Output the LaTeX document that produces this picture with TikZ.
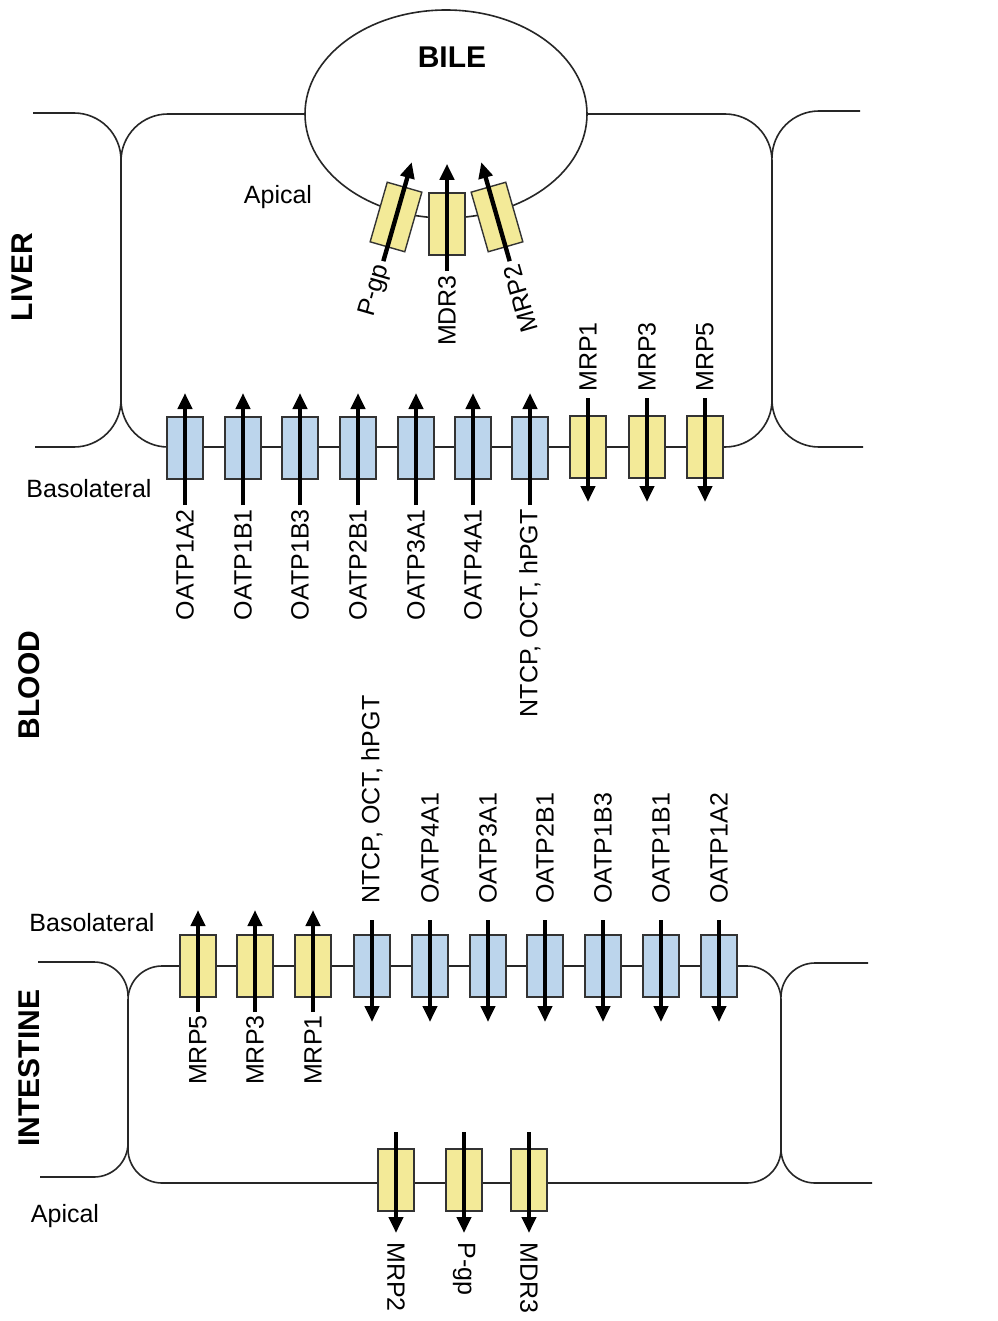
\documentclass[tikz,border=0pt]{standalone}
\usepackage{fontspec}
\setmainfont{Liberation Sans}
\usetikzlibrary{shapes.geometric,arrows.meta,calc}
\definecolor{tblue}{RGB}{188,213,236}
\definecolor{tyel}{RGB}{243,234,152}
\begin{document}
\begin{tikzpicture}[x=0.5pt,y=-0.5pt,
  mem/.style={draw=black!85, line width=0.8pt},
  bbox/.style={draw=black!80, line width=0.7pt, fill=tblue, minimum width=18pt, minimum height=31pt, inner sep=0pt},
  ybox/.style={bbox, fill=tyel},
  flow/.style={line width=2.2pt, -{Triangle[width=7pt,length=8pt]}},
  lbl/.style={font=\fontsize{12.5pt}{15pt}\selectfont, inner sep=0pt},
  big/.style={font=\fontsize{15pt}{18pt}\selectfont\bfseries, inner sep=0pt},
]
\useasboundingbox (0,0) rectangle (997,1321);
\fill[white] (0,0) rectangle (997,1321);

% ---------- LIVER outlines ----------
\node[draw=black!85, line width=0.8pt, ellipse, minimum width=141pt, minimum height=104pt, inner sep=0pt] (bile) at (446,114) {};
\draw[mem, rounded corners=23.5pt] (bile.west) -- (121,114) -- (121,447) -- (772,447) -- (772,114) -- (bile.east);
\draw[mem, rounded corners=23.5pt] (33,113) -- (121,113) -- (121,161);
\draw[mem, rounded corners=23.5pt] (35,447) -- (121,447) -- (121,400);
\draw[mem, rounded corners=23.5pt] (860,111) -- (772,111) -- (772,158);
\draw[mem, rounded corners=23.5pt] (863,447) -- (772,447) -- (772,400);

% ---------- INTESTINE outlines ----------
\draw[mem, rounded corners=17pt] (128,966) -- (781,966) -- (781,1183) -- (128,1183) -- cycle;
\draw[mem, rounded corners=17pt] (38,962) -- (128,962) -- (128,996);
\draw[mem, rounded corners=17pt] (40,1177) -- (128,1177) -- (128,1143);
\draw[mem, rounded corners=17pt] (868,963) -- (781,963) -- (781,997);
\draw[mem, rounded corners=17pt] (872,1183) -- (781,1183) -- (781,1149);

% ---------- Bile (apical liver) transporters ----------
\node[ybox, rotate=-16] (apg) at (396,217) {};
\node[ybox] (amd) at (447,224) {};
\node[ybox, rotate=16] (amr) at (497,217) {};
\draw[flow] ($(apg.center)!1.45!(apg.south)$) -- ($(apg.center)!1.8!(apg.north)$);
\draw[flow] ($(amd.center)!1.48!(amd.south)$) -- ($(amd.center)!1.9!(amd.north)$);
\draw[flow] ($(amr.center)!1.45!(amr.south)$) -- ($(amr.center)!1.8!(amr.north)$);
\node[lbl, rotate=74, anchor=east] (tpg) at ($(apg.center)!1.58!(apg.south)$) {P-gp};
\node[lbl, rotate=90, anchor=east] (tmd) at ($(amd.center)!1.6!(amd.south)$) {MDR3};
\node[lbl, rotate=106, anchor=east] (tmr) at ($(amr.center)!1.58!(amr.south)$) {MRP2};

% ---------- Liver basolateral ----------
\foreach \n/\x/\t in {1/185/OATP1A2, 2/243/OATP1B1, 3/300/OATP1B3, 4/358/OATP2B1, 5/416/OATP3A1, 6/473/OATP4A1, 7/530/{NTCP, OCT, hPGT}} {
  \node[bbox] (lb\n) at (\x,448) {};
  \draw[flow] ($(lb\n.center)+(0,57)$) -- ($(lb\n.center)+(0,-55)$);
  \node[lbl, rotate=90, anchor=east] (lbt\n) at ($(lb\n.center)+(0,61)$) {\t};
}
\foreach \n/\x/\t in {1/588/MRP1, 2/647/MRP3, 3/705/MRP5} {
  \node[ybox] (ly\n) at (\x,447) {};
  \draw[flow] ($(ly\n.center)+(0,-49)$) -- ($(ly\n.center)+(0,55)$);
  \node[lbl, rotate=90, anchor=west] (lyt\n) at ($(ly\n.center)+(0,-55)$) {\t};
}

% ---------- Intestine basolateral ----------
\foreach \n/\x/\t in {1/198/MRP5, 2/255/MRP3, 3/313/MRP1} {
  \node[ybox] (iy\n) at (\x,966) {};
  \draw[flow] ($(iy\n.center)+(0,46)$) -- ($(iy\n.center)+(0,-56)$);
  \node[lbl, rotate=90, anchor=east] (iyt\n) at ($(iy\n.center)+(0,49)$) {\t};
}
\foreach \n/\x/\t in {1/372/{NTCP, OCT, hPGT}, 2/430/OATP4A1, 3/488/OATP3A1, 4/545/OATP2B1, 5/603/OATP1B3, 6/661/OATP1B1, 7/719/OATP1A2} {
  \node[bbox] (ib\n) at (\x,966) {};
  \draw[flow] ($(ib\n.center)+(0,-46)$) -- ($(ib\n.center)+(0,56)$);
  \node[lbl, rotate=90, anchor=west] (ibt\n) at ($(ib\n.center)+(0,-62)$) {\t};
}

% ---------- Intestine apical ----------
\foreach \n/\x/\t in {1/396/MRP2, 2/464/P-gp, 3/529/MDR3} {
  \node[ybox] (ia\n) at (\x,1180) {};
  \draw[flow] ($(ia\n.center)+(0,-48)$) -- ($(ia\n.center)+(0,53)$);
  \node[lbl, rotate=-90, anchor=west] (iat\n) at ($(ia\n.center)+(0,62)$) {\t};
}

% ---------- Texts ----------
\node[big] (tbile) at (452,57) {BILE};
\node[big, rotate=90] (tliver) at (22,277) {LIVER};
\node[big, rotate=90] (tblood) at (29,685) {BLOOD};
\node[big, rotate=90] (tint) at (29,1068) {INTESTINE};
\node[lbl, anchor=base] (tap1) at (278,204) {Apical};
\node[lbl, anchor=base] (tbas1) at (89,497) {Basolateral};
\node[lbl, anchor=base] (tbas2) at (92,931) {Basolateral};
\node[lbl, anchor=base] (tap2) at (65,1222) {Apical};
\end{tikzpicture}
\end{document}
